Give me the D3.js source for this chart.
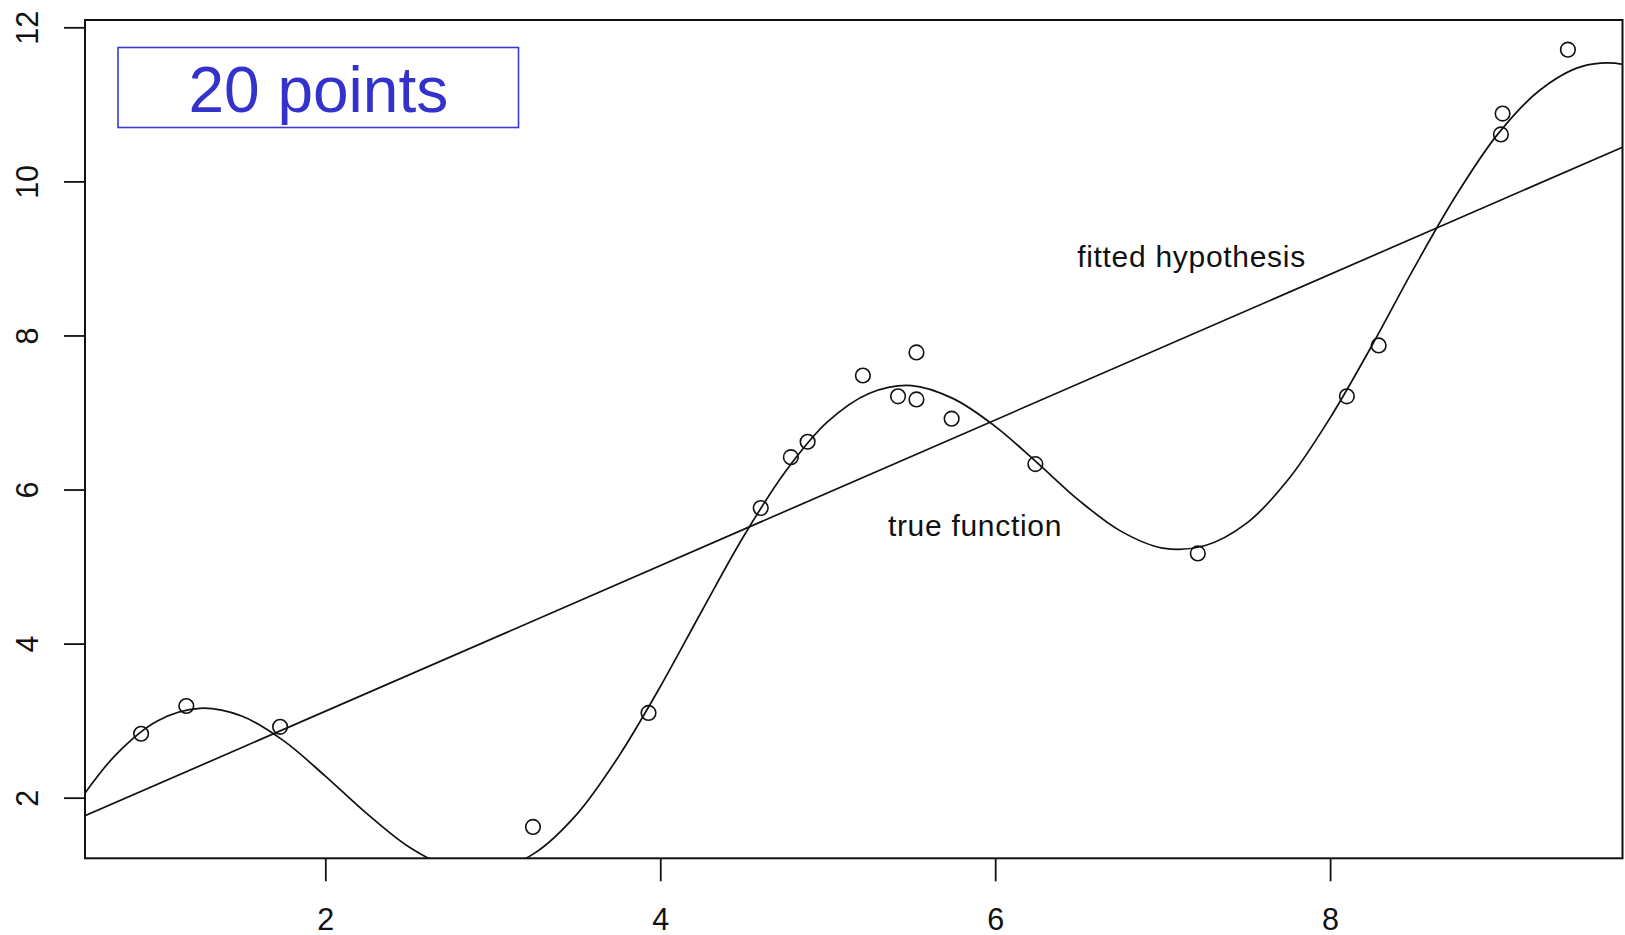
<!DOCTYPE html>
<html>
<head>
<meta charset="utf-8">
<script src="https://cdn.jsdelivr.net/npm/d3@7"></script>
<style>
  html, body { margin: 0; padding: 0; background: #fff; }
  svg { display: block; }
  text { font-family: "Liberation Sans", Arial, Helvetica, sans-serif; }
</style>
</head>
<body>
<svg id="chart" width="1625" height="935"></svg>
<script>
// ---- Data ----
const pointX = [0.90, 1.17, 1.73, 3.24, 3.93, 4.60, 4.78, 4.88, 5.21, 5.42,
                5.53, 5.53, 5.74, 6.24, 7.21, 8.10, 8.29, 9.02, 9.03, 9.42];
const pointY = [2.83, 3.19, 2.92, 1.62, 3.10, 5.76, 6.42, 6.62, 7.48, 7.21,
                7.78, 7.17, 6.92, 6.33, 5.17, 7.21, 7.87, 10.61, 10.88, 11.71];

// true function, estimated along the drawn curve
const curveX = [0.50, 0.75, 1.00, 1.25, 1.50, 1.75, 2.00, 2.25, 2.50, 2.75,
                3.00, 3.25, 3.50, 3.75, 4.00, 4.25, 4.50, 4.75, 5.00, 5.25,
                5.50, 5.75, 6.00, 6.25, 6.50, 6.75, 7.00, 7.25, 7.50, 7.75,
                8.00, 8.25, 8.50, 8.75, 9.00, 9.25, 9.50, 9.75, 10.00];
const curveY = [1.86, 2.56, 3.00, 3.16, 3.06, 2.74, 2.28, 1.79, 1.36, 1.09,
                1.05, 1.28, 1.78, 2.53, 3.44, 4.43, 5.40, 6.24, 6.88, 7.25,
                7.35, 7.18, 6.82, 6.35, 5.86, 5.46, 5.24, 5.27, 5.56, 6.13,
                6.93, 7.87, 8.87, 9.81, 10.61, 11.18, 11.49, 11.52, 11.30];

// fitted hypothesis (straight line), endpoints read at the plot edges
const fitX = [0.565, 9.746];
const fitY = [1.765, 10.444];

const xTicks = [2, 4, 6, 8];
const yTicks = [2, 4, 6, 8, 10, 12];

const titleText = "20 points";
const labelFit = "fitted hypothesis";
const labelTrue = "true function";

// ---- Layout ----
const svg = d3.select("#chart");
const pLeft = 85, pRight = 1622.5, pTop = 20, pBottom = 858.3;

const x = d3.scaleLinear().domain([0.565, 9.746]).range([pLeft, pRight]);
const y = d3.scaleLinear().domain([1.213, 12.095]).range([pBottom, pTop]);

svg.append("defs").append("clipPath").attr("id", "plotClip")
  .append("rect").attr("x", pLeft).attr("y", pTop)
  .attr("width", pRight - pLeft).attr("height", pBottom - pTop);

const plot = svg.append("g").attr("clip-path", "url(#plotClip)");

// true function
const smooth = d3.line().curve(d3.curveCatmullRom.alpha(0.5))
  .x(d => x(d[0])).y(d => y(d[1]));
const line = d3.line().x(d => x(d[0])).y(d => y(d[1]));
plot.append("path")
  .datum(curveX.map((v, i) => [v, curveY[i]]))
  .attr("d", smooth)
  .attr("fill", "none").attr("stroke", "#111").attr("stroke-width", 1.7);

// fitted line
plot.append("path")
  .datum(fitX.map((v, i) => [v, fitY[i]]))
  .attr("d", line)
  .attr("fill", "none").attr("stroke", "#111").attr("stroke-width", 1.7);

// points
plot.selectAll("circle.pt")
  .data(pointX.map((v, i) => [v, pointY[i]]))
  .enter().append("circle")
  .attr("class", "pt")
  .attr("cx", d => x(d[0])).attr("cy", d => y(d[1]))
  .attr("r", 7.3)
  .attr("fill", "none").attr("stroke", "#111").attr("stroke-width", 1.6);

// axes
const xAxis = svg.append("g")
  .attr("transform", `translate(0,${pBottom})`)
  .call(d3.axisBottom(x).tickValues(xTicks).tickFormat(d3.format("d"))
        .tickSize(23).tickPadding(27));
xAxis.select(".domain").remove();
xAxis.selectAll("line").attr("stroke", "#111").attr("stroke-width", 1.8);
xAxis.selectAll("text").attr("font-size", 30.5).attr("fill", "#111")
  .attr("font-family", "'Liberation Sans', Arial, sans-serif");

const yAxis = svg.append("g")
  .attr("transform", `translate(${pLeft},0)`)
  .call(d3.axisLeft(y).tickValues(yTicks).tickFormat(d3.format("d")).tickSize(21));
yAxis.select(".domain").remove();
yAxis.selectAll("line").attr("stroke", "#111").attr("stroke-width", 1.8);
yAxis.selectAll("text")
  .attr("x", null).attr("dy", null).attr("y", null)
  .attr("text-anchor", "middle")
  .attr("transform", "translate(-47,0) rotate(-90)")
  .attr("font-size", 30.5).attr("fill", "#111")
  .attr("font-family", "'Liberation Sans', Arial, sans-serif");

// plot box
svg.append("rect")
  .attr("x", pLeft).attr("y", pTop)
  .attr("width", pRight - pLeft).attr("height", pBottom - pTop)
  .attr("fill", "none").attr("stroke", "#111").attr("stroke-width", 2);

// annotations
svg.append("text")
  .attr("x", 1191.5).attr("y", 267)
  .attr("text-anchor", "middle")
  .attr("font-size", 30).attr("letter-spacing", 0.7).attr("fill", "#111")
  .text(labelFit);

svg.append("text")
  .attr("x", 975).attr("y", 536)
  .attr("text-anchor", "middle")
  .attr("font-size", 30).attr("letter-spacing", 0.7).attr("fill", "#111")
  .text(labelTrue);

// title box
svg.append("rect")
  .attr("x", 118).attr("y", 47.5).attr("width", 400.5).attr("height", 80)
  .attr("fill", "none").attr("stroke", "#3a3ad0").attr("stroke-width", 1.6);
svg.append("text")
  .attr("x", 318.3).attr("y", 111.7)
  .attr("text-anchor", "middle")
  .attr("font-size", 64).attr("fill", "#3333cc")
  .text(titleText);
</script>
</body>
</html>
